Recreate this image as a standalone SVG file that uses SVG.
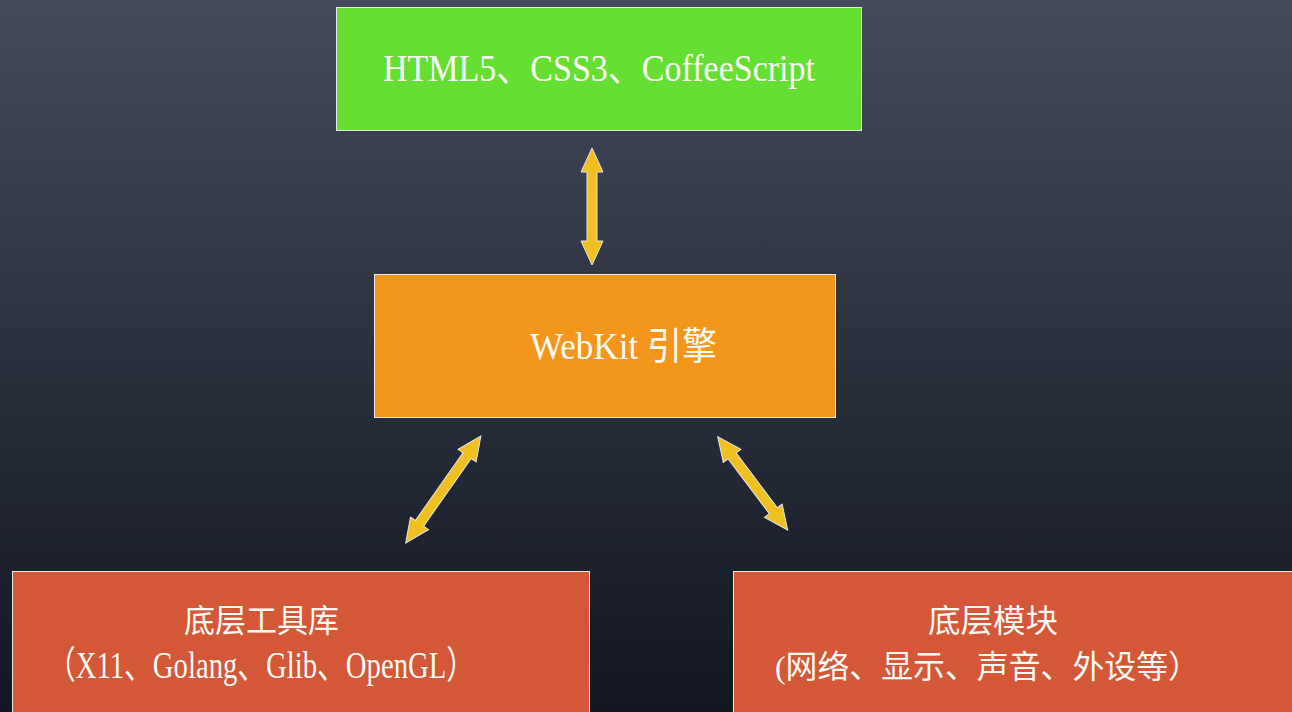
<svg xmlns="http://www.w3.org/2000/svg" width="1292" height="712" viewBox="0 0 1292 712">
  <defs>
    <linearGradient id="bg" x1="0" y1="0" x2="0" y2="1">
      <stop offset="0" stop-color="#454b5c"/>
      <stop offset="1" stop-color="#111620"/>
    </linearGradient>
    <style>
      .box { stroke: #e8e8e8; stroke-width: 1; }
      .lbl { font-family: "Liberation Serif", "Noto Sans CJK SC", serif; font-size: 32px; fill: #fbfbf6; text-anchor: middle; }
      .tall { font-size: 38px; }
      .arrow { fill: #f0c020; stroke: #e6e6e6; stroke-width: 1; stroke-linejoin: miter; }
    </style>
  </defs>
  <rect x="0" y="0" width="1292" height="712" fill="url(#bg)"/>

  <g id="node-frontend">
    <rect class="box" x="336.5" y="7.5" width="525" height="123" fill="#66df33"/>
    <text class="lbl tall" x="599" y="81" textLength="432" lengthAdjust="spacingAndGlyphs">HTML5、CSS3、CoffeeScript</text>
  </g>

  <g id="node-webkit">
    <rect class="box" x="374.5" y="274.5" width="461" height="143" fill="#f5961c"/>
    <text class="lbl tall" x="623.5" y="359" textLength="187" lengthAdjust="spacingAndGlyphs">WebKit 引擎</text>
  </g>

  <g id="node-toolkit">
    <rect class="box" x="12.5" y="571.5" width="577" height="150" fill="#d45737"/>
    <text class="lbl" x="261.5" y="632" textLength="155" lengthAdjust="spacingAndGlyphs">底层工具库</text>
    <text class="lbl tall" x="261" y="678" textLength="428" lengthAdjust="spacingAndGlyphs">（X11、Golang、Glib、OpenGL）</text>
  </g>

  <g id="node-modules">
    <rect class="box" x="733.5" y="571.5" width="570" height="150" fill="#d45737"/>
    <text class="lbl" x="993" y="632" textLength="130" lengthAdjust="spacingAndGlyphs">底层模块</text>
    <text class="lbl" x="987.5" y="678" textLength="425" lengthAdjust="spacingAndGlyphs">(网络、显示、声音、外设等）</text>
  </g>

  <g id="connectors">
    <path class="arrow" transform="translate(592 206.5) rotate(90)" d="M-58.5,0 L-34.5,-11 L-34.5,-5 L34.5,-5 L34.5,-11 L58.5,0 L34.5,11 L34.5,5 L-34.5,5 L-34.5,11 Z"/>
    <path class="arrow" transform="translate(443.3 489.5) rotate(125.1)" d="M-65.4,0 L-41.4,-11 L-41.4,-5 L41.4,-5 L41.4,-11 L65.4,0 L41.4,11 L41.4,5 L-41.4,5 L-41.4,11 Z"/>
    <path class="arrow" transform="translate(752.7 483.3) rotate(53.1)" d="M-58.3,0 L-34.3,-11 L-34.3,-5 L34.3,-5 L34.3,-11 L58.3,0 L34.3,11 L34.3,5 L-34.3,5 L-34.3,11 Z"/>
  </g>
</svg>
